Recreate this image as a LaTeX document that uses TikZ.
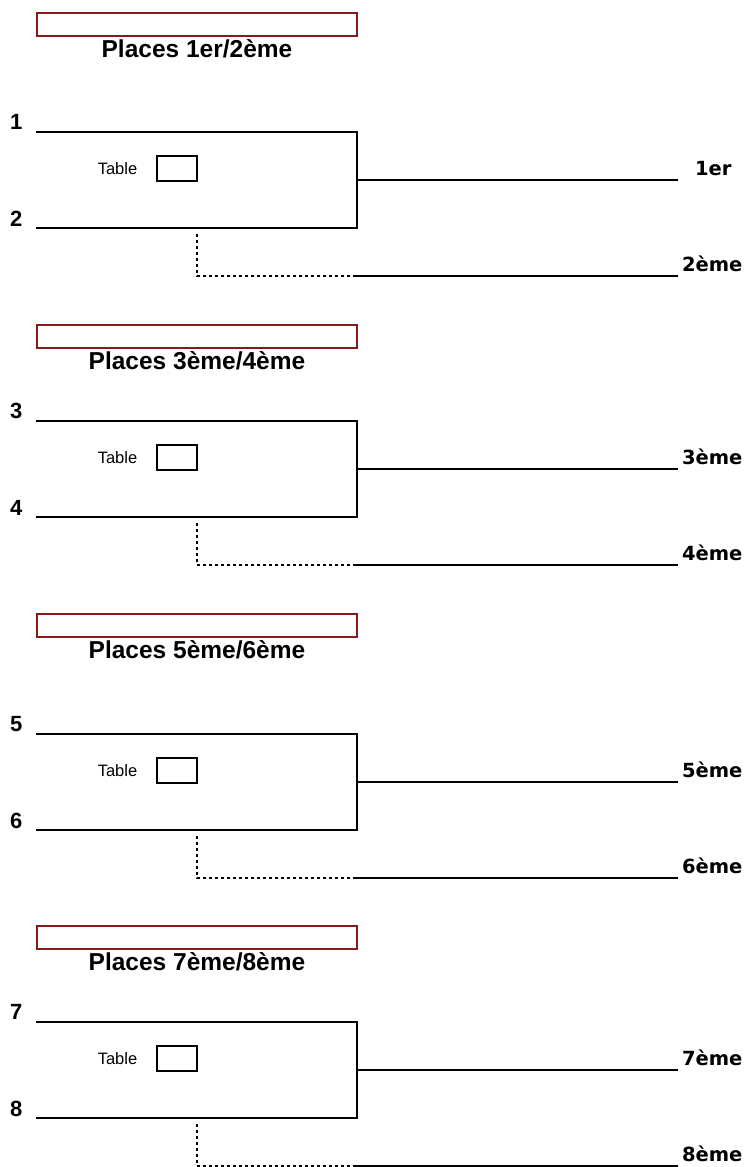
\documentclass[tikz,border=0pt]{standalone}
\usepackage{fontspec}
\setmainfont{Liberation Sans}
\newfontfamily\placefont{DejaVu Sans}
\usetikzlibrary{positioning}
\definecolor{boxred}{RGB}{135,26,26}

\begin{document}
\begin{tikzpicture}[x=1pt,y=-1pt,line width=2pt,
  titlebox/.style={draw=boxred,line width=2pt,minimum width=320pt,
                   minimum height=23pt,inner sep=0pt},
  titletext/.style={font=\fontsize{24.5}{26}\selectfont\bfseries,inner sep=0pt},
  seed/.style={font=\fontsize{22}{24}\selectfont\bfseries,anchor=base west,
               inner sep=0pt},
  place/.style={font=\placefont\fontsize{19.5}{21}\selectfont\bfseries,
                anchor=base west,inner sep=0pt},
  desk/.style={draw,line width=1.6pt,minimum width=40pt,minimum height=25pt,
               inner sep=0pt},
  desktext/.style={font=\fontsize{16.5}{18}\selectfont,inner sep=0pt},
  loser/.style={dash pattern=on 3pt off 3pt,line width=1.6pt}]
\useasboundingbox (0,0) rectangle (746,1167);
% one block per pair of places
\foreach \k/\ybox/\yline/\na/\nb/\pa/\pb/\dx in
  {1/12/132/1/2/1er/2ème/16, 2/324/421/3/4/3ème/4ème/3,
   3/613/734/5/6/5ème/6ème/3, 4/925/1022/7/8/7ème/8ème/3}{
  \node[titlebox] (hdr\k) at (197,\ybox+12) {};
  \node[titletext,below=2pt of hdr\k] (ttl\k) {Places \pa/\pb};
  \node[seed] (sa\k) at (9,\yline-3) {\na};
  \node[seed] (sb\k) at (9,\yline+96-2) {\nb};
  \coordinate (ta\k) at (36,\yline);
  \coordinate (tb\k) at (36,\yline+96);
  \coordinate (j\k) at (357,\yline+48);
  \coordinate (w\k) at (678,\yline+48);
  \coordinate (d\k) at (197,\yline+102);
  \coordinate (e\k) at (197,\yline+144);
  \coordinate (f\k) at (355,\yline+144);
  \coordinate (g\k) at (678,\yline+144);
  \node[desk] (dk\k) at (177,\yline+36.5) {};
  \node[desktext,left=18pt of dk\k] (tx\k) {Table};
  \draw (ta\k) -- (ta\k -| j\k) -- (tb\k -| j\k) -- (tb\k);
  \draw (j\k) -- (w\k);
  \draw[loser] (d\k) -- (e\k) -- (f\k);
  \draw (f\k) -- (g\k);
  \node[place] (pa\k) at ([shift={(\dx,-5)}]w\k) {\pa};
  \node[place] (pb\k) at ([shift={(3,-5)}]g\k) {\pb};
}
\end{tikzpicture}
\end{document}
